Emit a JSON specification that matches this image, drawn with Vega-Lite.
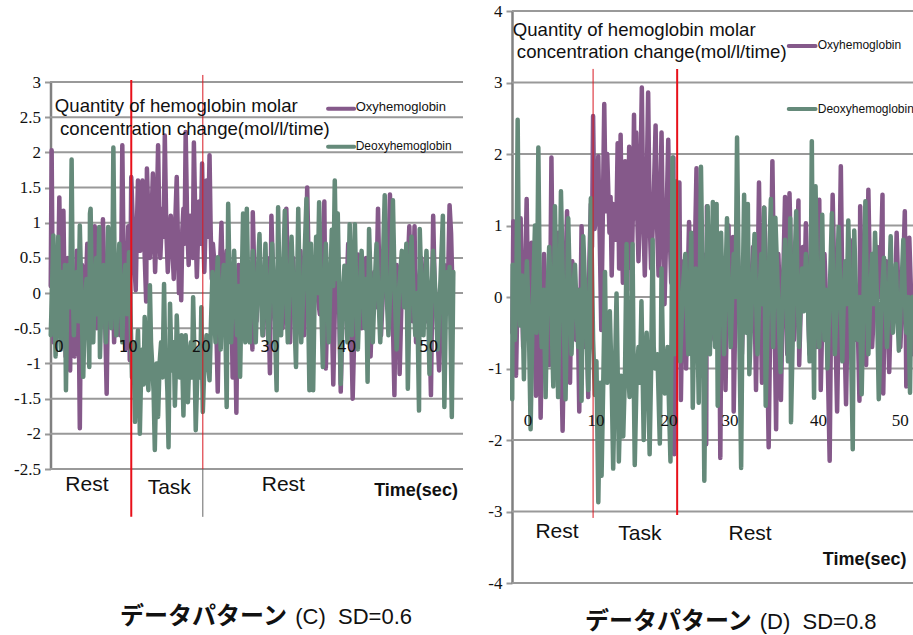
{"$schema":"https://vega.github.io/schema/vega-lite/v6.json","width":913,"height":635,"autosize":{"type":"none"},"padding":0,"background":"white",
"config":{"view":{"stroke":null},"text":{"font":"Liberation Sans","color":"#111111"}},
"datasets":{
"cGrid":[{"t":0,"e":55.4,"v":3},{"t":0,"e":55.4,"v":2.5},{"t":0,"e":55.4,"v":2},{"t":0,"e":55.4,"v":1.5},{"t":0,"e":55.4,"v":1},{"t":0,"e":55.4,"v":0.5},{"t":0,"e":55.4,"v":0},{"t":0,"e":55.4,"v":-0.5},{"t":0,"e":55.4,"v":-1},{"t":0,"e":55.4,"v":-1.5},{"t":0,"e":55.4,"v":-2},{"t":0,"e":55.4,"v":-2.5}],
"dGrid":[{"t":0,"e":53.9,"v":4},{"t":0,"e":53.9,"v":3},{"t":0,"e":53.9,"v":2},{"t":0,"e":53.9,"v":1},{"t":0,"e":53.9,"v":0},{"t":0,"e":53.9,"v":-1},{"t":0,"e":53.9,"v":-2},{"t":0,"e":53.9,"v":-3},{"t":0,"e":53.9,"v":-4}],
"cOxy":[{"t":0.1,"v":0.1},{"t":0.22,"v":2.03},{"t":0.35,"v":0.2},{"t":0.5,"v":-0.7},{"t":0.65,"v":0.1},{"t":0.8,"v":0.5},{"t":1.05,"v":-0.2},{"t":1.25,"v":1.36},{"t":1.4,"v":0.3},{"t":1.5,"v":-0.3},{"t":1.65,"v":0.2},{"t":1.8,"v":1.17},{"t":1.95,"v":0},{"t":2.1,"v":-0.9},{"t":2.25,"v":0.1},{"t":2.4,"v":0.5},{"t":2.55,"v":-0.3},{"t":2.7,"v":-1.1},{"t":2.85,"v":0},{"t":3,"v":0.3},{"t":3.15,"v":-0.2},{"t":3.3,"v":-0.9},{"t":3.45,"v":0.1},{"t":3.6,"v":0.6},{"t":3.85,"v":-0.3},{"t":4,"v":-1.92},{"t":4.15,"v":-0.1},{"t":4.3,"v":0.4},{"t":4.5,"v":0},{"t":4.7,"v":-0.6},{"t":4.85,"v":0.2},{"t":5,"v":0.7},{"t":5.2,"v":-0.1},{"t":5.4,"v":-0.4},{"t":5.55,"v":0.4},{"t":5.7,"v":0.3},{"t":5.85,"v":-0.2},{"t":6,"v":0.95},{"t":6.15,"v":0.1},{"t":6.3,"v":-0.5},{"t":6.5,"v":0},{"t":6.7,"v":0.5},{"t":6.9,"v":-0.3},{"t":7.1,"v":1.05},{"t":7.35,"v":-0.1},{"t":7.6,"v":-1.43},{"t":7.75,"v":-0.2},{"t":7.9,"v":0.3},{"t":8.1,"v":-0.1},{"t":8.3,"v":0.75},{"t":8.45,"v":0},{"t":8.6,"v":-0.7},{"t":8.8,"v":0.1},{"t":9,"v":0.4},{"t":9.2,"v":-0.2},{"t":9.4,"v":-0.6},{"t":9.55,"v":0.4},{"t":9.7,"v":2.1},{"t":9.9,"v":0.2},{"t":10.1,"v":-0.8},{"t":10.3,"v":0.1},{"t":10.5,"v":0.95},{"t":10.6,"v":0},{"t":10.7,"v":-0.95},{"t":10.8,"v":0.4},{"t":10.9,"v":1.65},{"t":11.2,"v":0.7},{"t":11.5,"v":0.04},{"t":11.65,"v":0.9},{"t":11.8,"v":1.6},{"t":11.95,"v":1},{"t":12.1,"v":0.6},{"t":12.25,"v":1.1},{"t":12.4,"v":1.6},{"t":12.65,"v":0.7},{"t":12.9,"v":-0.12},{"t":13,"v":1.77},{"t":13.2,"v":1.1},{"t":13.4,"v":0.5},{"t":13.6,"v":1},{"t":13.8,"v":1.7},{"t":13.95,"v":0.9},{"t":14.1,"v":0.3},{"t":14.3,"v":1},{"t":14.5,"v":2.1},{"t":14.65,"v":1.1},{"t":14.8,"v":0.5},{"t":14.95,"v":0.9},{"t":15.1,"v":1.2},{"t":15.25,"v":0.8},{"t":15.4,"v":2.24},{"t":15.6,"v":0.9},{"t":15.8,"v":0.3},{"t":16,"v":0.8},{"t":16.2,"v":1.1},{"t":16.4,"v":0.7},{"t":16.6,"v":0.2},{"t":16.8,"v":1},{"t":17,"v":1.65},{"t":17.15,"v":0.8},{"t":17.3,"v":0},{"t":17.45,"v":0.7},{"t":17.6,"v":-0.1},{"t":17.75,"v":0.9},{"t":17.9,"v":1.2},{"t":18.05,"v":0.7},{"t":18.2,"v":2.29},{"t":18.4,"v":1},{"t":18.6,"v":0.4},{"t":18.8,"v":1.1},{"t":19,"v":0.9},{"t":19.15,"v":0.5},{"t":19.3,"v":2.14},{"t":19.5,"v":1},{"t":19.7,"v":0.23},{"t":19.85,"v":0.8},{"t":20,"v":1.3},{"t":20.2,"v":0.7},{"t":20.4,"v":1.84},{"t":20.55,"v":0.9},{"t":20.7,"v":0.3},{"t":20.85,"v":0.9},{"t":21,"v":1.6},{"t":21.2,"v":0.8},{"t":21.4,"v":1.96},{"t":21.55,"v":0.9},{"t":21.7,"v":0.2},{"t":21.85,"v":0.7},{"t":22,"v":0.5},{"t":22.25,"v":-0.2},{"t":22.5,"v":-1.4},{"t":22.75,"v":0.2},{"t":23,"v":1},{"t":23.15,"v":0.2},{"t":23.3,"v":-0.5},{"t":23.5,"v":0},{"t":23.7,"v":0.6},{"t":23.9,"v":0.1},{"t":24.1,"v":-0.3},{"t":24.3,"v":0.2},{"t":24.5,"v":-1.2},{"t":24.75,"v":0.1},{"t":25,"v":-1.7},{"t":25.15,"v":-0.2},{"t":25.3,"v":0.4},{"t":25.5,"v":0},{"t":25.7,"v":-0.6},{"t":25.85,"v":0.1},{"t":26,"v":0.8},{"t":26.3,"v":0.1},{"t":26.6,"v":-0.5},{"t":26.9,"v":0.2},{"t":27.15,"v":-0.8},{"t":27.2,"v":1.15},{"t":27.45,"v":0.1},{"t":27.7,"v":-0.4},{"t":27.9,"v":0.2},{"t":28.1,"v":0.6},{"t":28.35,"v":0},{"t":28.6,"v":-0.6},{"t":28.85,"v":0.1},{"t":29.1,"v":0.5},{"t":29.3,"v":-0.1},{"t":29.5,"v":-1.14},{"t":29.7,"v":1.1},{"t":29.95,"v":0.1},{"t":30.2,"v":-0.4},{"t":30.45,"v":0.2},{"t":30.7,"v":0.5},{"t":30.95,"v":0},{"t":31.2,"v":-0.5},{"t":31.45,"v":0.3},{"t":31.7,"v":1.2},{"t":31.95,"v":0},{"t":32.2,"v":-0.7},{"t":32.4,"v":0.1},{"t":32.6,"v":0.5},{"t":32.85,"v":0},{"t":33.1,"v":-0.4},{"t":33.35,"v":0.2},{"t":33.6,"v":0.6},{"t":33.85,"v":0},{"t":34.1,"v":-0.6},{"t":34.3,"v":0.2},{"t":34.5,"v":1.5},{"t":34.75,"v":0.1},{"t":35,"v":-0.6},{"t":35.25,"v":0.2},{"t":35.5,"v":0.5},{"t":35.85,"v":0},{"t":36.2,"v":-0.3},{"t":36.5,"v":0.3},{"t":36.8,"v":1.3},{"t":37,"v":-1.07},{"t":37.25,"v":0},{"t":37.5,"v":0.4},{"t":37.75,"v":0},{"t":38,"v":-1.3},{"t":38.25,"v":0},{"t":38.5,"v":0.5},{"t":38.75,"v":0},{"t":39,"v":-1.4},{"t":39.25,"v":-0.2},{"t":39.5,"v":0.2},{"t":39.75,"v":-0.1},{"t":40,"v":0.7},{"t":40.3,"v":0},{"t":40.6,"v":-1.5},{"t":40.95,"v":0},{"t":41.3,"v":0.55},{"t":41.55,"v":0},{"t":41.8,"v":-0.5},{"t":42.1,"v":0.1},{"t":42.4,"v":0.5},{"t":42.7,"v":0},{"t":43,"v":-0.9},{"t":43.25,"v":-0.1},{"t":43.5,"v":0.3},{"t":43.75,"v":-0.2},{"t":44,"v":1.2},{"t":44.2,"v":0.1},{"t":44.4,"v":-0.6},{"t":44.7,"v":0.1},{"t":45,"v":0.5},{"t":45.3,"v":0},{"t":45.6,"v":1.4},{"t":45.9,"v":0.1},{"t":46.2,"v":-1.45},{"t":46.35,"v":-0.1},{"t":46.5,"v":0.4},{"t":46.7,"v":0},{"t":46.9,"v":-1.15},{"t":47.2,"v":0.1},{"t":47.5,"v":0.5},{"t":47.85,"v":0},{"t":48.2,"v":0.95},{"t":48.4,"v":0},{"t":48.6,"v":-0.4},{"t":48.75,"v":0.3},{"t":48.9,"v":0.95},{"t":49.1,"v":-0.7},{"t":49.45,"v":0.1},{"t":49.8,"v":0.5},{"t":50.15,"v":0},{"t":50.5,"v":-0.4},{"t":50.8,"v":0.1},{"t":51.1,"v":-1.45},{"t":51.4,"v":1.1},{"t":51.6,"v":0.1},{"t":51.8,"v":-0.2},{"t":52.2,"v":-1.1},{"t":52.55,"v":0},{"t":52.9,"v":0.4},{"t":53.05,"v":0},{"t":53.2,"v":-0.3},{"t":53.4,"v":0.2},{"t":53.6,"v":1.25},{"t":53.8,"v":0.85},{"t":54,"v":0}],
"cDeoxy":[{"t":0.1,"v":-0.6},{"t":0.28,"v":0.1},{"t":0.45,"v":0.82},{"t":0.6,"v":-0.1},{"t":0.75,"v":-0.9},{"t":0.95,"v":0},{"t":1.1,"v":0.8},{"t":1.3,"v":-0.1},{"t":1.45,"v":-0.8},{"t":1.6,"v":0.3},{"t":1.8,"v":-0.53},{"t":2,"v":0.4},{"t":2.14,"v":-1.38},{"t":2.3,"v":-0.1},{"t":2.5,"v":0.4},{"t":2.7,"v":-0.2},{"t":2.9,"v":1.9},{"t":3.05,"v":0.1},{"t":3.2,"v":-0.6},{"t":3.4,"v":0},{"t":3.6,"v":0.3},{"t":3.8,"v":-0.4},{"t":4,"v":0.96},{"t":4.2,"v":0},{"t":4.46,"v":-1.19},{"t":4.7,"v":-0.1},{"t":4.9,"v":0.2},{"t":5.1,"v":-0.3},{"t":5.27,"v":-1.05},{"t":5.36,"v":1.13},{"t":5.45,"v":1.2},{"t":5.6,"v":0},{"t":5.8,"v":-0.7},{"t":6,"v":0.1},{"t":6.2,"v":0.5},{"t":6.4,"v":-0.3},{"t":6.6,"v":0.94},{"t":6.7,"v":-0.91},{"t":6.95,"v":0.1},{"t":7.2,"v":0.4},{"t":7.35,"v":-0.2},{"t":7.5,"v":-0.7},{"t":7.65,"v":0.2},{"t":7.8,"v":0.94},{"t":8,"v":0},{"t":8.2,"v":-0.5},{"t":8.35,"v":0.2},{"t":8.5,"v":2.07},{"t":8.7,"v":0.1},{"t":8.9,"v":-0.6},{"t":9.1,"v":0.1},{"t":9.3,"v":0.7},{"t":9.5,"v":-0.1},{"t":9.7,"v":-0.7},{"t":9.9,"v":0.1},{"t":10.1,"v":0.4},{"t":10.35,"v":-0.3},{"t":10.6,"v":0.58},{"t":10.8,"v":-0.3},{"t":11,"v":-1.2},{"t":11.2,"v":-0.7},{"t":11.4,"v":-1.83},{"t":11.6,"v":-1},{"t":11.8,"v":-0.53},{"t":11.95,"v":-1.2},{"t":12.05,"v":-2},{"t":12.25,"v":-1},{"t":12.4,"v":-0.8},{"t":12.55,"v":-1.3},{"t":12.7,"v":-0.34},{"t":12.95,"v":-1},{"t":13.2,"v":-1.38},{"t":13.3,"v":-0.6},{"t":13.4,"v":0.11},{"t":13.55,"v":-0.7},{"t":13.7,"v":-1},{"t":13.9,"v":-1.4},{"t":14.06,"v":-2.23},{"t":14.3,"v":-1},{"t":14.5,"v":-1.76},{"t":14.7,"v":-1},{"t":14.9,"v":-0.7},{"t":15.1,"v":-1.2},{"t":15.3,"v":0.13},{"t":15.45,"v":-0.9},{"t":15.6,"v":-1},{"t":15.75,"v":-1.4},{"t":15.9,"v":-2.19},{"t":16.1,"v":-0.15},{"t":16.25,"v":-0.8},{"t":16.4,"v":-1.1},{"t":16.6,"v":-0.7},{"t":16.75,"v":-1.6},{"t":16.9,"v":-1},{"t":17,"v":-0.32},{"t":17.2,"v":-0.9},{"t":17.4,"v":-1.2},{"t":17.65,"v":-0.6},{"t":17.9,"v":-1.74},{"t":18.05,"v":-0.9},{"t":18.2,"v":-0.6},{"t":18.35,"v":-1.1},{"t":18.5,"v":-1.55},{"t":18.7,"v":-0.9},{"t":18.9,"v":-0.7},{"t":19.05,"v":-1.2},{"t":19.2,"v":-0.06},{"t":19.4,"v":-1},{"t":19.55,"v":-1.95},{"t":19.8,"v":-1},{"t":20,"v":-0.8},{"t":20.15,"v":-1.2},{"t":20.3,"v":-0.2},{"t":20.5,"v":-1.69},{"t":20.75,"v":-0.9},{"t":21,"v":-0.6},{"t":21.2,"v":-1},{"t":21.4,"v":-1.24},{"t":21.6,"v":-0.4},{"t":21.8,"v":0.3},{"t":22,"v":-0.2},{"t":22.2,"v":-0.7},{"t":22.35,"v":0.1},{"t":22.5,"v":0.51},{"t":22.7,"v":-0.2},{"t":22.9,"v":-0.8},{"t":23.1,"v":0},{"t":23.3,"v":0.4},{"t":23.5,"v":-0.3},{"t":23.7,"v":-1.62},{"t":23.9,"v":1.27},{"t":24.1,"v":0.1},{"t":24.3,"v":-0.7},{"t":24.5,"v":0},{"t":24.7,"v":0.6},{"t":24.9,"v":-0.1},{"t":25.1,"v":-0.6},{"t":25.3,"v":0.1},{"t":25.5,"v":-1.19},{"t":25.7,"v":0},{"t":25.9,"v":1.13},{"t":26.05,"v":0},{"t":26.2,"v":-0.7},{"t":26.3,"v":0.2},{"t":26.4,"v":1.2},{"t":26.6,"v":0},{"t":26.8,"v":-0.7},{"t":27,"v":0.1},{"t":27.2,"v":0.6},{"t":27.4,"v":-0.1},{"t":27.6,"v":-0.7},{"t":27.85,"v":0.2},{"t":28.1,"v":0.84},{"t":28.3,"v":0},{"t":28.5,"v":-0.6},{"t":28.7,"v":0},{"t":28.9,"v":0.7},{"t":29.1,"v":-0.1},{"t":29.3,"v":-0.7},{"t":29.55,"v":0.1},{"t":29.8,"v":0.7},{"t":30.1,"v":-0.2},{"t":30.4,"v":-1.38},{"t":30.6,"v":1.22},{"t":30.8,"v":0},{"t":31,"v":-0.6},{"t":31.25,"v":0.2},{"t":31.5,"v":1.17},{"t":31.7,"v":0},{"t":31.9,"v":-0.7},{"t":32.15,"v":0.2},{"t":32.4,"v":0.8},{"t":32.7,"v":-0.1},{"t":33,"v":-1.05},{"t":33.15,"v":0.1},{"t":33.3,"v":1.2},{"t":33.5,"v":0},{"t":33.7,"v":-0.7},{"t":34.05,"v":0.2},{"t":34.4,"v":1.34},{"t":34.6,"v":0},{"t":34.8,"v":-1.38},{"t":34.9,"v":-0.2},{"t":35,"v":0.7},{"t":35.15,"v":-0.2},{"t":35.3,"v":-1.38},{"t":35.5,"v":0},{"t":35.7,"v":0.8},{"t":35.9,"v":0},{"t":36.1,"v":1.29},{"t":36.35,"v":0},{"t":36.6,"v":-1.05},{"t":36.8,"v":0.1},{"t":37,"v":0.7},{"t":37.2,"v":0},{"t":37.4,"v":-0.7},{"t":37.6,"v":0.1},{"t":37.8,"v":0.9},{"t":38,"v":0.1},{"t":38.2,"v":1.6},{"t":38.4,"v":0.2},{"t":38.6,"v":1.13},{"t":38.8,"v":0},{"t":39,"v":-1.29},{"t":39.25,"v":-0.1},{"t":39.5,"v":0.39},{"t":39.7,"v":-0.1},{"t":39.9,"v":-0.7},{"t":40.05,"v":0.2},{"t":40.2,"v":0.98},{"t":40.35,"v":0},{"t":40.5,"v":-0.6},{"t":40.7,"v":0.2},{"t":40.9,"v":0.98},{"t":41.1,"v":-0.1},{"t":41.3,"v":-0.8},{"t":41.55,"v":0},{"t":41.8,"v":0.6},{"t":42,"v":0},{"t":42.2,"v":-0.5},{"t":42.4,"v":0.2},{"t":42.6,"v":-1.26},{"t":42.8,"v":0.91},{"t":43.05,"v":0},{"t":43.3,"v":-0.7},{"t":43.55,"v":0.1},{"t":43.8,"v":0.7},{"t":44.05,"v":0},{"t":44.3,"v":-0.7},{"t":44.6,"v":0.2},{"t":44.9,"v":1.39},{"t":45.15,"v":0},{"t":45.4,"v":-0.6},{"t":45.7,"v":0.2},{"t":46,"v":1.32},{"t":46.25,"v":0},{"t":46.5,"v":-0.8},{"t":46.85,"v":0.1},{"t":47.2,"v":0.6},{"t":47.5,"v":-0.2},{"t":47.8,"v":0.7},{"t":48,"v":-1.36},{"t":48.25,"v":0},{"t":48.5,"v":0.8},{"t":48.75,"v":0},{"t":49,"v":-0.6},{"t":49.25,"v":0},{"t":49.5,"v":-1.67},{"t":49.6,"v":0.91},{"t":49.85,"v":0},{"t":50.1,"v":-0.6},{"t":50.3,"v":0.1},{"t":50.5,"v":0.6},{"t":50.7,"v":0},{"t":50.9,"v":-1.15},{"t":51.15,"v":-0.1},{"t":51.4,"v":0.6},{"t":51.7,"v":0},{"t":52,"v":-0.8},{"t":52.35,"v":0.1},{"t":52.7,"v":1.1},{"t":52.9,"v":-1.62},{"t":53.1,"v":-0.2},{"t":53.3,"v":0.3},{"t":53.45,"v":-0.2},{"t":53.6,"v":0.37},{"t":53.9,"v":-1.76},{"t":54.1,"v":0.3}],
"dOxy":[{"t":0.05,"v":-0.5},{"t":0.18,"v":1.06},{"t":0.36,"v":0},{"t":0.54,"v":-1.1},{"t":0.7,"v":-0.2},{"t":0.85,"v":0.3},{"t":1,"v":-0.2},{"t":1.16,"v":1.1},{"t":1.33,"v":0},{"t":1.5,"v":-0.7},{"t":1.75,"v":0.2},{"t":1.97,"v":1.37},{"t":2.15,"v":0},{"t":2.3,"v":-0.6},{"t":2.5,"v":0.1},{"t":2.64,"v":0.76},{"t":2.95,"v":-0.2},{"t":3.22,"v":-1.38},{"t":3.35,"v":-0.2},{"t":3.5,"v":0.4},{"t":3.7,"v":-0.2},{"t":3.85,"v":-1.69},{"t":4.1,"v":0},{"t":4.3,"v":0.6},{"t":4.5,"v":-0.1},{"t":4.7,"v":-0.5},{"t":4.85,"v":0},{"t":5,"v":-0.95},{"t":5.15,"v":0.1},{"t":5.3,"v":1.95},{"t":5.5,"v":0},{"t":5.7,"v":-0.6},{"t":5.95,"v":0.1},{"t":6.2,"v":0.9},{"t":6.5,"v":-0.2},{"t":6.8,"v":-1.87},{"t":7.1,"v":0},{"t":7.4,"v":1.2},{"t":7.6,"v":0},{"t":7.8,"v":-1.2},{"t":7.95,"v":-0.1},{"t":8.1,"v":0.5},{"t":8.35,"v":-0.1},{"t":8.6,"v":-0.6},{"t":8.8,"v":0.1},{"t":9.04,"v":-1.6},{"t":9.2,"v":-0.2},{"t":9.35,"v":0.99},{"t":9.6,"v":0},{"t":9.8,"v":-0.7},{"t":10,"v":0},{"t":10.25,"v":-1.4},{"t":10.4,"v":0.5},{"t":10.6,"v":1.3},{"t":10.75,"v":0.7},{"t":10.9,"v":2.53},{"t":11.1,"v":0.95},{"t":11.35,"v":1.2},{"t":11.6,"v":1.97},{"t":11.8,"v":0.8},{"t":12,"v":-0.46},{"t":12.2,"v":1.1},{"t":12.4,"v":2.7},{"t":12.6,"v":1.2},{"t":12.8,"v":2},{"t":13.1,"v":0.9},{"t":13.25,"v":1.4},{"t":13.4,"v":0.3},{"t":13.6,"v":1.3},{"t":13.8,"v":1.15},{"t":14,"v":0.8},{"t":14.2,"v":2.15},{"t":14.4,"v":0.4},{"t":14.6,"v":2.27},{"t":14.75,"v":1.1},{"t":14.9,"v":0.2},{"t":15.05,"v":1.3},{"t":15.2,"v":1.9},{"t":15.35,"v":1},{"t":15.5,"v":0.1},{"t":15.65,"v":1.2},{"t":15.75,"v":2.1},{"t":15.95,"v":1.1},{"t":16.1,"v":0.4},{"t":16.25,"v":1.2},{"t":16.4,"v":2.55},{"t":16.55,"v":1.1},{"t":16.7,"v":2.3},{"t":16.85,"v":1.1},{"t":17,"v":0.5},{"t":17.2,"v":1.3},{"t":17.45,"v":2.93},{"t":17.65,"v":1.1},{"t":17.85,"v":0.3},{"t":18.05,"v":1.2},{"t":18.3,"v":2.86},{"t":18.5,"v":1.1},{"t":18.7,"v":0.4},{"t":19,"v":1.2},{"t":19.3,"v":2.4},{"t":19.5,"v":1},{"t":19.7,"v":0.3},{"t":19.9,"v":1.2},{"t":20.1,"v":2.3},{"t":20.3,"v":0.8},{"t":20.5,"v":-0.1},{"t":20.75,"v":1},{"t":21,"v":2.2},{"t":21.2,"v":0.9},{"t":21.4,"v":0.2},{"t":21.55,"v":1},{"t":21.7,"v":1.95},{"t":21.8,"v":-2.2},{"t":22,"v":-0.5},{"t":22.2,"v":0.3},{"t":22.35,"v":-0.3},{"t":22.5,"v":1.6},{"t":22.7,"v":-1.44},{"t":22.9,"v":-0.1},{"t":23.1,"v":0.5},{"t":23.25,"v":-0.1},{"t":23.4,"v":-1},{"t":23.6,"v":0.1},{"t":23.8,"v":1.05},{"t":24,"v":0},{"t":24.2,"v":-0.6},{"t":24.5,"v":0.2},{"t":24.8,"v":1.8},{"t":25,"v":0},{"t":25.2,"v":-0.7},{"t":25.4,"v":0.1},{"t":25.6,"v":0.6},{"t":25.85,"v":-0.2},{"t":26.1,"v":-2.06},{"t":26.2,"v":1.27},{"t":26.45,"v":0},{"t":26.7,"v":-0.6},{"t":26.95,"v":0.1},{"t":27.2,"v":0.7},{"t":27.45,"v":0},{"t":27.7,"v":-0.7},{"t":27.85,"v":-0.1},{"t":28,"v":-2.25},{"t":28.15,"v":0},{"t":28.3,"v":-0.5},{"t":28.5,"v":0.1},{"t":28.7,"v":-1.3},{"t":28.9,"v":-0.1},{"t":29.1,"v":1},{"t":29.25,"v":0.1},{"t":29.4,"v":-0.2},{"t":29.55,"v":0.2},{"t":29.7,"v":0.84},{"t":29.8,"v":-1.6},{"t":30.05,"v":0},{"t":30.3,"v":0.7},{"t":30.6,"v":0},{"t":30.9,"v":-0.8},{"t":31.15,"v":0},{"t":31.4,"v":0.8},{"t":31.65,"v":0},{"t":31.9,"v":-0.6},{"t":32.15,"v":0.1},{"t":32.4,"v":0.7},{"t":32.6,"v":0},{"t":32.8,"v":-1.3},{"t":33,"v":0},{"t":33.2,"v":1.6},{"t":33.4,"v":0},{"t":33.6,"v":-1.2},{"t":33.75,"v":0},{"t":33.9,"v":1.25},{"t":34.2,"v":0},{"t":34.5,"v":-2.1},{"t":34.75,"v":0},{"t":35,"v":1.9},{"t":35.25,"v":0},{"t":35.5,"v":-1.85},{"t":35.65,"v":-0.2},{"t":35.8,"v":0.6},{"t":36,"v":0},{"t":36.15,"v":-1.44},{"t":36.4,"v":0},{"t":36.7,"v":1.4},{"t":36.85,"v":0},{"t":37,"v":-0.8},{"t":37.15,"v":0.2},{"t":37.3,"v":1.45},{"t":37.6,"v":0},{"t":37.9,"v":-0.6},{"t":38.2,"v":0.2},{"t":38.5,"v":1.35},{"t":38.6,"v":-0.95},{"t":38.85,"v":0},{"t":39.1,"v":0.7},{"t":39.3,"v":0},{"t":39.5,"v":1.03},{"t":39.75,"v":0},{"t":40,"v":-0.8},{"t":40.25,"v":0},{"t":40.5,"v":0.8},{"t":40.75,"v":0},{"t":41,"v":-0.7},{"t":41.15,"v":0.1},{"t":41.3,"v":1.36},{"t":41.5,"v":-1.3},{"t":41.75,"v":-0.1},{"t":42,"v":0.6},{"t":42.35,"v":-0.4},{"t":42.7,"v":-2.29},{"t":42.9,"v":-0.1},{"t":43.1,"v":1.43},{"t":43.4,"v":-0.1},{"t":43.7,"v":-1.6},{"t":43.95,"v":0},{"t":44.2,"v":1.83},{"t":44.4,"v":0.05},{"t":44.65,"v":-0.3},{"t":44.9,"v":-1.5},{"t":45.15,"v":0},{"t":45.4,"v":0.8},{"t":45.75,"v":0},{"t":46.1,"v":-0.6},{"t":46.4,"v":0},{"t":46.7,"v":-1.45},{"t":46.8,"v":1.27},{"t":47.05,"v":0},{"t":47.3,"v":-0.6},{"t":47.45,"v":0},{"t":47.6,"v":-0.95},{"t":47.75,"v":0.1},{"t":47.9,"v":1.5},{"t":48.15,"v":0},{"t":48.4,"v":-0.7},{"t":48.75,"v":0},{"t":49.1,"v":0.7},{"t":49.45,"v":0},{"t":49.8,"v":1.43},{"t":49.9,"v":-1.35},{"t":50.1,"v":-0.1},{"t":50.3,"v":0.5},{"t":50.5,"v":-0.2},{"t":50.7,"v":-1.05},{"t":50.95,"v":0},{"t":51.2,"v":0.3},{"t":51.45,"v":-0.2},{"t":51.7,"v":0.9},{"t":51.95,"v":0},{"t":52.2,"v":-0.7},{"t":52.5,"v":0.1},{"t":52.8,"v":1.2},{"t":53,"v":-1.25},{"t":53.2,"v":0},{"t":53.4,"v":0.83},{"t":53.65,"v":0},{"t":53.9,"v":-0.8}],
"dDeoxy":[{"t":0.03,"v":-1.43},{"t":0.09,"v":0.45},{"t":0.25,"v":-0.3},{"t":0.4,"v":-0.6},{"t":0.6,"v":0.2},{"t":0.76,"v":2.48},{"t":0.95,"v":0.1},{"t":1.1,"v":-0.4},{"t":1.35,"v":0.3},{"t":1.6,"v":-1.15},{"t":1.8,"v":0},{"t":2,"v":0.5},{"t":2.25,"v":-0.3},{"t":2.5,"v":-1.85},{"t":2.8,"v":-0.1},{"t":3.09,"v":1},{"t":3.2,"v":0},{"t":3.3,"v":-0.5},{"t":3.4,"v":0.4},{"t":3.54,"v":2.09},{"t":3.75,"v":0},{"t":4,"v":-0.7},{"t":4.25,"v":0.1},{"t":4.52,"v":-1.4},{"t":4.75,"v":0},{"t":5,"v":0.7},{"t":5.3,"v":-0.2},{"t":5.55,"v":-1.25},{"t":5.77,"v":1.27},{"t":6,"v":0},{"t":6.2,"v":-1.4},{"t":6.4,"v":0},{"t":6.58,"v":1.48},{"t":6.9,"v":-0.1},{"t":7.2,"v":-1.43},{"t":7.4,"v":0},{"t":7.56,"v":1.1},{"t":7.8,"v":0},{"t":8,"v":-0.8},{"t":8.25,"v":0.1},{"t":8.46,"v":0.45},{"t":8.7,"v":-0.2},{"t":8.9,"v":-0.7},{"t":9.15,"v":0.1},{"t":9.35,"v":-1.45},{"t":9.58,"v":0.85},{"t":9.9,"v":-0.1},{"t":10.25,"v":-1.3},{"t":10.45,"v":0.1},{"t":10.6,"v":1.38},{"t":10.9,"v":-0.6},{"t":11.14,"v":-1.37},{"t":11.35,"v":-0.9},{"t":11.6,"v":-2.87},{"t":11.85,"v":-1.2},{"t":12.04,"v":-2.5},{"t":12.3,"v":-1},{"t":12.5,"v":0.35},{"t":12.65,"v":-0.9},{"t":12.8,"v":-1.2},{"t":13,"v":-0.7},{"t":13.15,"v":-0.2},{"t":13.4,"v":-1.2},{"t":13.6,"v":-2.4},{"t":13.85,"v":-1},{"t":14.05,"v":0.05},{"t":14.2,"v":-1},{"t":14.36,"v":-2.3},{"t":14.65,"v":-1.1},{"t":14.95,"v":-1.95},{"t":15.2,"v":-1},{"t":15.4,"v":0.74},{"t":15.6,"v":-1},{"t":15.8,"v":-1.4},{"t":16,"v":-0.8},{"t":16.2,"v":0.74},{"t":16.35,"v":-1},{"t":16.5,"v":-2.35},{"t":16.75,"v":-1.1},{"t":17,"v":-0.7},{"t":17.2,"v":-1.2},{"t":17.4,"v":-0.06},{"t":17.55,"v":-1},{"t":17.7,"v":-2},{"t":17.9,"v":-1},{"t":18.1,"v":-0.5},{"t":18.3,"v":-1.1},{"t":18.5,"v":-2.2},{"t":18.7,"v":-1},{"t":18.9,"v":0.8},{"t":19.05,"v":-0.7},{"t":19.2,"v":-1},{"t":19.55,"v":-0.8},{"t":19.87,"v":-2.05},{"t":20,"v":-0.9},{"t":20.1,"v":0.4},{"t":20.3,"v":-0.9},{"t":20.54,"v":-1.35},{"t":20.9,"v":-0.7},{"t":21.3,"v":-2.3},{"t":21.45,"v":-0.4},{"t":21.57,"v":1.95},{"t":21.7,"v":0.1},{"t":21.8,"v":-0.8},{"t":21.95,"v":0.2},{"t":22.1,"v":1.62},{"t":22.35,"v":0},{"t":22.6,"v":-0.9},{"t":22.95,"v":0.1},{"t":23.3,"v":0.6},{"t":23.5,"v":-0.2},{"t":23.7,"v":-0.8},{"t":23.9,"v":0.1},{"t":24.1,"v":0.9},{"t":24.3,"v":-1.55},{"t":24.5,"v":-0.3},{"t":24.7,"v":0.4},{"t":24.9,"v":-0.3},{"t":25.1,"v":-1.48},{"t":25.25,"v":0.2},{"t":25.4,"v":1.82},{"t":25.65,"v":0},{"t":25.85,"v":-2.57},{"t":26.1,"v":0},{"t":26.3,"v":1.27},{"t":26.45,"v":0},{"t":26.6,"v":-0.8},{"t":26.8,"v":0.2},{"t":27,"v":1.33},{"t":27.15,"v":0},{"t":27.3,"v":-0.7},{"t":27.4,"v":0.2},{"t":27.5,"v":1.3},{"t":27.65,"v":-1.52},{"t":27.85,"v":0},{"t":28.1,"v":0.9},{"t":28.3,"v":0},{"t":28.5,"v":-0.8},{"t":28.7,"v":0.2},{"t":28.9,"v":1.1},{"t":29.15,"v":0},{"t":29.4,"v":-0.7},{"t":29.6,"v":0},{"t":29.8,"v":0.6},{"t":30.05,"v":0},{"t":30.25,"v":2.23},{"t":30.5,"v":0},{"t":30.8,"v":-2.39},{"t":31,"v":0},{"t":31.2,"v":1.43},{"t":31.35,"v":0.2},{"t":31.5,"v":-0.5},{"t":31.6,"v":0.3},{"t":31.7,"v":1.3},{"t":31.9,"v":-1.08},{"t":32.25,"v":0},{"t":32.6,"v":0.88},{"t":32.8,"v":0},{"t":33,"v":-0.8},{"t":33.25,"v":0},{"t":33.5,"v":0.6},{"t":33.7,"v":-0.1},{"t":33.9,"v":1.25},{"t":34.1,"v":-1.52},{"t":34.45,"v":0.1},{"t":34.8,"v":1.37},{"t":34.95,"v":0},{"t":35.1,"v":-0.7},{"t":35.25,"v":0.2},{"t":35.4,"v":1.11},{"t":35.75,"v":0},{"t":36.1,"v":-1.05},{"t":36.4,"v":0.1},{"t":36.7,"v":0.8},{"t":36.9,"v":0},{"t":37.1,"v":-0.9},{"t":37.25,"v":0.1},{"t":37.4,"v":1.1},{"t":37.5,"v":-1.75},{"t":37.85,"v":0},{"t":38.2,"v":1.2},{"t":38.4,"v":0},{"t":38.6,"v":-0.7},{"t":38.8,"v":0},{"t":39,"v":0.4},{"t":39.25,"v":-0.2},{"t":39.5,"v":0.6},{"t":39.75,"v":0},{"t":40,"v":-0.9},{"t":40.15,"v":0.2},{"t":40.3,"v":2.18},{"t":40.45,"v":0},{"t":40.6,"v":-1.41},{"t":40.7,"v":0.2},{"t":40.8,"v":1.55},{"t":41.05,"v":0},{"t":41.3,"v":-0.7},{"t":41.5,"v":0.1},{"t":41.7,"v":1.15},{"t":41.85,"v":0},{"t":42,"v":-0.6},{"t":42.2,"v":0.1},{"t":42.4,"v":-1},{"t":42.7,"v":0},{"t":43,"v":1.17},{"t":43.2,"v":0},{"t":43.4,"v":-0.8},{"t":43.65,"v":0},{"t":43.9,"v":0.98},{"t":44.15,"v":0},{"t":44.4,"v":-0.9},{"t":44.6,"v":0},{"t":44.8,"v":0.5},{"t":45,"v":-0.1},{"t":45.2,"v":1.07},{"t":45.5,"v":-0.2},{"t":45.8,"v":-2.13},{"t":46,"v":0.93},{"t":46.25,"v":0},{"t":46.5,"v":-0.6},{"t":46.75,"v":0},{"t":47,"v":-1.36},{"t":47.25,"v":0},{"t":47.5,"v":1.34},{"t":47.7,"v":0},{"t":47.9,"v":-0.8},{"t":48.15,"v":0},{"t":48.4,"v":0.6},{"t":48.6,"v":-0.1},{"t":48.8,"v":0.9},{"t":49.05,"v":0},{"t":49.3,"v":-1.43},{"t":49.65,"v":-0.1},{"t":50,"v":0.55},{"t":50.2,"v":-0.1},{"t":50.4,"v":-0.7},{"t":50.65,"v":0},{"t":50.9,"v":0.85},{"t":51.05,"v":0},{"t":51.2,"v":-0.5},{"t":51.4,"v":0},{"t":51.6,"v":0.46},{"t":51.8,"v":-0.2},{"t":52,"v":-0.75},{"t":52.3,"v":0},{"t":52.6,"v":0.8},{"t":52.8,"v":0},{"t":53,"v":-0.5},{"t":53.25,"v":0},{"t":53.5,"v":-1.34},{"t":53.65,"v":-0.1},{"t":53.8,"v":0}]
},
"layer":[
{"encoding":{"x":{"field":"t","type":"quantitative","axis":null,"scale":{"domain":[0,55.4],"range":[50,463],"nice":false,"zero":false}},"y":{"field":"v","type":"quantitative","scale":{"domain":[-2.5,3],"range":[469,82],"nice":false,"zero":false},"axis":{"title":null,"orient":"left","offset":-50.5,"grid":false,"values":[3,2.5,2,1.5,1,0.5,0,-0.5,-1,-1.5,-2,-2.5],"format":"~g","labelExpr":"replace(datum.label,'\u2212','-')","domainColor":"#808080","domainWidth":2.5,"tickColor":"#999999","tickWidth":2,"tickSize":6,"labelFont":"Liberation Serif","labelFontSize":17,"labelColor":"#111111","labelPadding":4}}},
"layer":[
{"data":{"name":"cGrid"},"mark":{"type":"rule","color":"#999999","strokeWidth":2},"encoding":{"x2":{"field":"e"}}},
{"data":{"name":"cOxy"},"mark":{"type":"line","color":"#85598a","strokeWidth":4.5,"strokeCap":"round","strokeJoin":"round"},"encoding":{}},
{"data":{"name":"cDeoxy"},"mark":{"type":"line","color":"#658a7a","strokeWidth":4.5,"strokeCap":"round","strokeJoin":"round"},"encoding":{}},
{"data":{"values":[{"t":10.9,"v":3.03},{"t":10.9,"v":-3.18}]},"mark":{"type":"line","color":"#e8101a","strokeWidth":2},"encoding":{}},
{"data":{"values":[{"t":20.5,"v":3.1},{"t":20.5,"v":-2.5}]},"mark":{"type":"line","color":"#d81822","strokeWidth":1},"encoding":{}},
{"data":{"values":[{"t":20.5,"v":-2.5},{"t":20.5,"v":-3.18}]},"mark":{"type":"line","color":"#666666","strokeWidth":1},"encoding":{}},
{"data":{"values":[{"t":1.2,"v":-0.76,"label":"0"},{"t":10.5,"v":-0.76,"label":"10"},{"t":20.3,"v":-0.76,"label":"20"},{"t":29.5,"v":-0.76,"label":"30"},{"t":39.8,"v":-0.76,"label":"40"},{"t":50.8,"v":-0.76,"label":"50"}]},"mark":{"type":"text","font":"DejaVu Sans","fontSize":15,"align":"center","baseline":"middle","color":"#111111"},"encoding":{"text":{"field":"label"}}},
{"data":{"values":[{"t":0.65,"v":2.66,"label":"Quantity of hemoglobin molar"},{"t":1.35,"v":2.33,"label":"concentration change(mol/l/time)"}]},"mark":{"type":"text","fontSize":18.6,"align":"left","baseline":"middle"},"encoding":{"text":{"field":"label"}}},
{"data":{"values":[{"t":41,"v":2.64,"label":"Oxyhemoglobin"}]},"mark":{"type":"text","fontSize":13,"align":"left","baseline":"middle"},"encoding":{"text":{"field":"label"}}},
{"data":{"values":[{"t":41,"v":2.09,"label":"Deoxyhemoglobin"}]},"mark":{"type":"text","fontSize":12,"align":"left","baseline":"middle"},"encoding":{"text":{"field":"label"}}},
{"data":{"values":[{"t":37.3,"v":2.62},{"t":40.8,"v":2.62}]},"mark":{"type":"line","color":"#85598a","strokeWidth":4,"strokeCap":"round"},"encoding":{}},
{"data":{"values":[{"t":37.3,"v":2.08},{"t":40.8,"v":2.08}]},"mark":{"type":"line","color":"#658a7a","strokeWidth":4,"strokeCap":"round"},"encoding":{}},
{"data":{"values":[{"t":4.95,"v":-2.73,"label":"Rest"},{"t":16,"v":-2.77,"label":"Task"},{"t":31.3,"v":-2.73,"label":"Rest"}]},"mark":{"type":"text","fontSize":21,"align":"center","baseline":"middle"},"encoding":{"text":{"field":"label"}}},
{"data":{"values":[{"t":49.1,"v":-2.81,"label":"Time(sec)"}]},"mark":{"type":"text","fontSize":18,"fontWeight":"bold","align":"center","baseline":"middle"},"encoding":{"text":{"field":"label"}}},
{"data":{"values":[{"t":9.4,"v":-4.6,"label":"データパターン"}]},"mark":{"type":"text","font":"Noto Sans CJK JP","fontSize":24,"fontWeight":"bold","align":"left","baseline":"middle"},"encoding":{"text":{"field":"label"}}},
{"data":{"values":[{"t":32.9,"v":-4.6,"label":"(C)\u00a0\u00a0SD=0.6"}]},"mark":{"type":"text","fontSize":22,"align":"left","baseline":"middle"},"encoding":{"text":{"field":"label"}}}
]},
{"encoding":{"x":{"field":"t","type":"quantitative","axis":null,"scale":{"domain":[0,53.9],"range":[512,913],"nice":false,"zero":false}},"y":{"field":"v","type":"quantitative","scale":{"domain":[-4,4],"range":[583,11],"nice":false,"zero":false},"axis":{"title":null,"orient":"left","offset":-512,"grid":false,"values":[4,3,2,1,0,-1,-2,-3,-4],"format":"~g","labelExpr":"replace(datum.label,'\u2212','-')","domainColor":"#808080","domainWidth":2.5,"tickColor":"#999999","tickWidth":2,"tickSize":6,"labelFont":"Liberation Serif","labelFontSize":17,"labelColor":"#111111","labelPadding":4}}},
"layer":[
{"data":{"name":"dGrid"},"mark":{"type":"rule","color":"#999999","strokeWidth":2},"encoding":{"x2":{"field":"e"}}},
{"data":{"name":"dOxy"},"mark":{"type":"line","color":"#85598a","strokeWidth":4.5,"strokeCap":"round","strokeJoin":"round"},"encoding":{}},
{"data":{"name":"dDeoxy"},"mark":{"type":"line","color":"#658a7a","strokeWidth":4.5,"strokeCap":"round","strokeJoin":"round"},"encoding":{}},
{"data":{"values":[{"t":10.9,"v":3.19},{"t":10.9,"v":-3.09}]},"mark":{"type":"line","color":"#d81822","strokeWidth":1},"encoding":{}},
{"data":{"values":[{"t":22.2,"v":3.19},{"t":22.2,"v":-3.05}]},"mark":{"type":"line","color":"#e8101a","strokeWidth":2},"encoding":{}},
{"data":{"values":[{"t":2.15,"v":-1.73,"label":"0"},{"t":11.3,"v":-1.73,"label":"10"},{"t":21.1,"v":-1.73,"label":"20"},{"t":29.3,"v":-1.73,"label":"30"},{"t":41.2,"v":-1.73,"label":"40"},{"t":52.2,"v":-1.73,"label":"50"}]},"mark":{"type":"text","font":"Liberation Serif","fontSize":17,"align":"center","baseline":"middle","color":"#111111"},"encoding":{"text":{"field":"label"}}},
{"data":{"values":[{"t":0.1,"v":3.74,"label":"Quantity of hemoglobin molar"},{"t":0.65,"v":3.43,"label":"concentration change(mol/l/time)"}]},"mark":{"type":"text","fontSize":18.6,"align":"left","baseline":"middle"},"encoding":{"text":{"field":"label"}}},
{"data":{"values":[{"t":41.1,"v":3.52,"label":"Oxyhemoglobin"},{"t":41.1,"v":2.63,"label":"Deoxyhemoglobin"}]},"mark":{"type":"text","fontSize":12,"align":"left","baseline":"middle"},"encoding":{"text":{"field":"label"}}},
{"data":{"values":[{"t":37.2,"v":3.51},{"t":40.8,"v":3.51}]},"mark":{"type":"line","color":"#85598a","strokeWidth":4,"strokeCap":"round"},"encoding":{}},
{"data":{"values":[{"t":37.2,"v":2.63},{"t":40.8,"v":2.63}]},"mark":{"type":"line","color":"#658a7a","strokeWidth":4,"strokeCap":"round"},"encoding":{}},
{"data":{"values":[{"t":6.05,"v":-3.29,"label":"Rest"},{"t":17.2,"v":-3.31,"label":"Task"},{"t":32,"v":-3.31,"label":"Rest"}]},"mark":{"type":"text","fontSize":21,"align":"center","baseline":"middle"},"encoding":{"text":{"field":"label"}}},
{"data":{"values":[{"t":47.4,"v":-3.68,"label":"Time(sec)"}]},"mark":{"type":"text","fontSize":18,"fontWeight":"bold","align":"center","baseline":"middle"},"encoding":{"text":{"field":"label"}}},
{"data":{"values":[{"t":9.8,"v":-4.55,"label":"データパターン"}]},"mark":{"type":"text","font":"Noto Sans CJK JP","fontSize":24,"fontWeight":"bold","align":"left","baseline":"middle"},"encoding":{"text":{"field":"label"}}},
{"data":{"values":[{"t":33.3,"v":-4.55,"label":"(D)\u00a0\u00a0SD=0.8"}]},"mark":{"type":"text","fontSize":22,"align":"left","baseline":"middle"},"encoding":{"text":{"field":"label"}}}
]}
],
"resolve":{"scale":{"x":"independent","y":"independent"},"axis":{"x":"independent","y":"independent"}}
}
